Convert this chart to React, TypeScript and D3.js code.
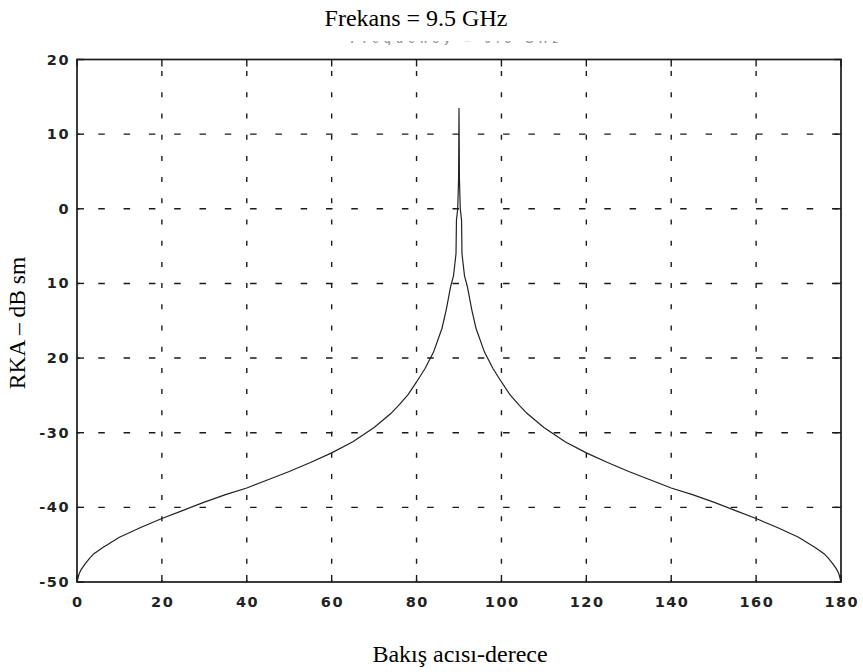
import React from "react";
import * as d3 from "d3";

const angles = [0, 0.5, 1, 2, 3, 4, 6, 8, 10, 15, 20, 25, 30, 35, 40, 45, 50, 55, 60, 65, 70, 74, 76, 78, 80, 82, 84, 86, 87, 88, 88.7, 89.3, 89.4, 89.7, 89.9, 90, 90.1, 90.3, 90.6, 90.7, 91.3, 92, 93, 94, 96, 98, 100, 102, 104, 106, 110, 115, 120, 125, 130, 135, 140, 145, 150, 155, 160, 165, 170, 172, 174, 176, 177, 178, 179, 179.5, 180];
const rcs = [-50, -48.9, -48.3, -47.5, -46.8, -46.2, -45.4, -44.7, -44, -42.7, -41.5, -40.4, -39.3, -38.3, -37.4, -36.3, -35.2, -34, -32.7, -31.2, -29.3, -27.4, -26.2, -24.9, -23.2, -21.4, -19.2, -16, -13.5, -10.5, -9, -6, -1.5, 0, 4, 13.5, 4, 0, -1.5, -6, -9, -10.5, -13.5, -16, -19.2, -21.4, -23.2, -24.9, -26.2, -27.4, -29.3, -31.2, -32.7, -34, -35.2, -36.3, -37.4, -38.3, -39.3, -40.4, -41.5, -42.7, -44, -44.7, -45.4, -46.2, -46.8, -47.5, -48.3, -48.9, -50];
const xTicks = [0, 20, 40, 60, 80, 100, 120, 140, 160, 180];
const yTicks = [20, 10, 0, -10, -20, -30, -40, -50];
const yTickLabels = ["20", "10", "0", "10", "20", "-30", "-40", "-50"];

const title = "Frekans = 9.5 GHz";
const hiddenTitle = "Frequency = 9.5 GHz";
const xLabel = "Bakış acısı-derece";
const yLabel = "RKA – dB sm";

export default function App() {
  const W = 863, H = 672;
  const left = 77, right = 841, top = 59.5, bottom = 582;
  const x = d3.scaleLinear().domain([0, 180]).range([left, right]);
  const y = d3.scaleLinear().domain([-50, 20]).range([bottom, top]);
  const line = d3.line<number>().x((_, i) => x(angles[i])).y((d) => y(d));
  const tickFont = "'DejaVu Sans', Arial, sans-serif";
  const serif = "'Liberation Serif', 'Times New Roman', serif";
  const ink = "#1a1a1a";
  return (
    <svg width={W} height={H} style={{ position: "absolute", left: 0, top: 0, background: "#fff" }}>
      <rect x={0} y={0} width={W} height={H} fill="#fff" />
      {/* grid */}
      {xTicks.slice(1, -1).map((t) => (
        <line key={"gx" + t} x1={x(t)} x2={x(t)} y1={top} y2={bottom} stroke={ink} strokeWidth={1.4} strokeDasharray="5,16.2" strokeDashoffset={9.6} />
      ))}
      {yTicks.slice(1, -1).map((t) => (
        <line key={"gy" + t} x1={left} x2={right} y1={y(t)} y2={y(t)} stroke={ink} strokeWidth={1.4} strokeDasharray="6.5,18.8" strokeDashoffset={4} />
      ))}
      {/* ticks inward */}
      {xTicks.map((t) => (
        <g key={"tx" + t}>
          <line x1={x(t)} x2={x(t)} y1={bottom} y2={bottom - 7} stroke={ink} strokeWidth={1.4} />
          <line x1={x(t)} x2={x(t)} y1={top} y2={top + 7} stroke={ink} strokeWidth={1.4} />
          <text x={x(t) + 0.8} y={bottom + 25} textAnchor="middle" fontFamily={tickFont} fontWeight="bold" fontSize={14.5} letterSpacing={1.5} fill="#222">{t}</text>
        </g>
      ))}
      {yTicks.map((t, i) => (
        <g key={"ty" + t + i}>
          <line x1={left} x2={left + 7} y1={y(t)} y2={y(t)} stroke={ink} strokeWidth={1.4} />
          <line x1={right} x2={right - 7} y1={y(t)} y2={y(t)} stroke={ink} strokeWidth={1.4} />
          <text x={left - 7} y={y(t) + 5} textAnchor="end" fontFamily={tickFont} fontWeight="bold" fontSize={14.5} letterSpacing={1.5} fill="#222">{yTickLabels[i]}</text>
        </g>
      ))}
      {/* frame */}
      <rect x={left} y={top} width={right - left} height={bottom - top} fill="none" stroke={ink} strokeWidth={1.7} />
      {/* curve */}
      <path d={line(rcs) || ""} fill="none" stroke="#222" strokeWidth={1.2} />
      {/* original title, mostly covered */}
      <text x={457} y={42.8} textAnchor="middle" fontFamily="'Liberation Sans', Arial, sans-serif" fontWeight="bold" fontSize={11} letterSpacing={5.5} fill="#999">{hiddenTitle}</text>
      <rect x={0} y={0} width={W} height={41} fill="#fff" />
      <text x={416} y={26} textAnchor="middle" fontFamily={serif} fontSize={24} fill="#000">{title}</text>
      <text x={460} y={662} textAnchor="middle" fontFamily={serif} fontSize={24} fill="#000">{xLabel}</text>
      <text transform={`translate(25,323) rotate(-90)`} textAnchor="middle" fontFamily={serif} fontSize={23.5} fill="#000">{yLabel}</text>
    </svg>
  );
}
